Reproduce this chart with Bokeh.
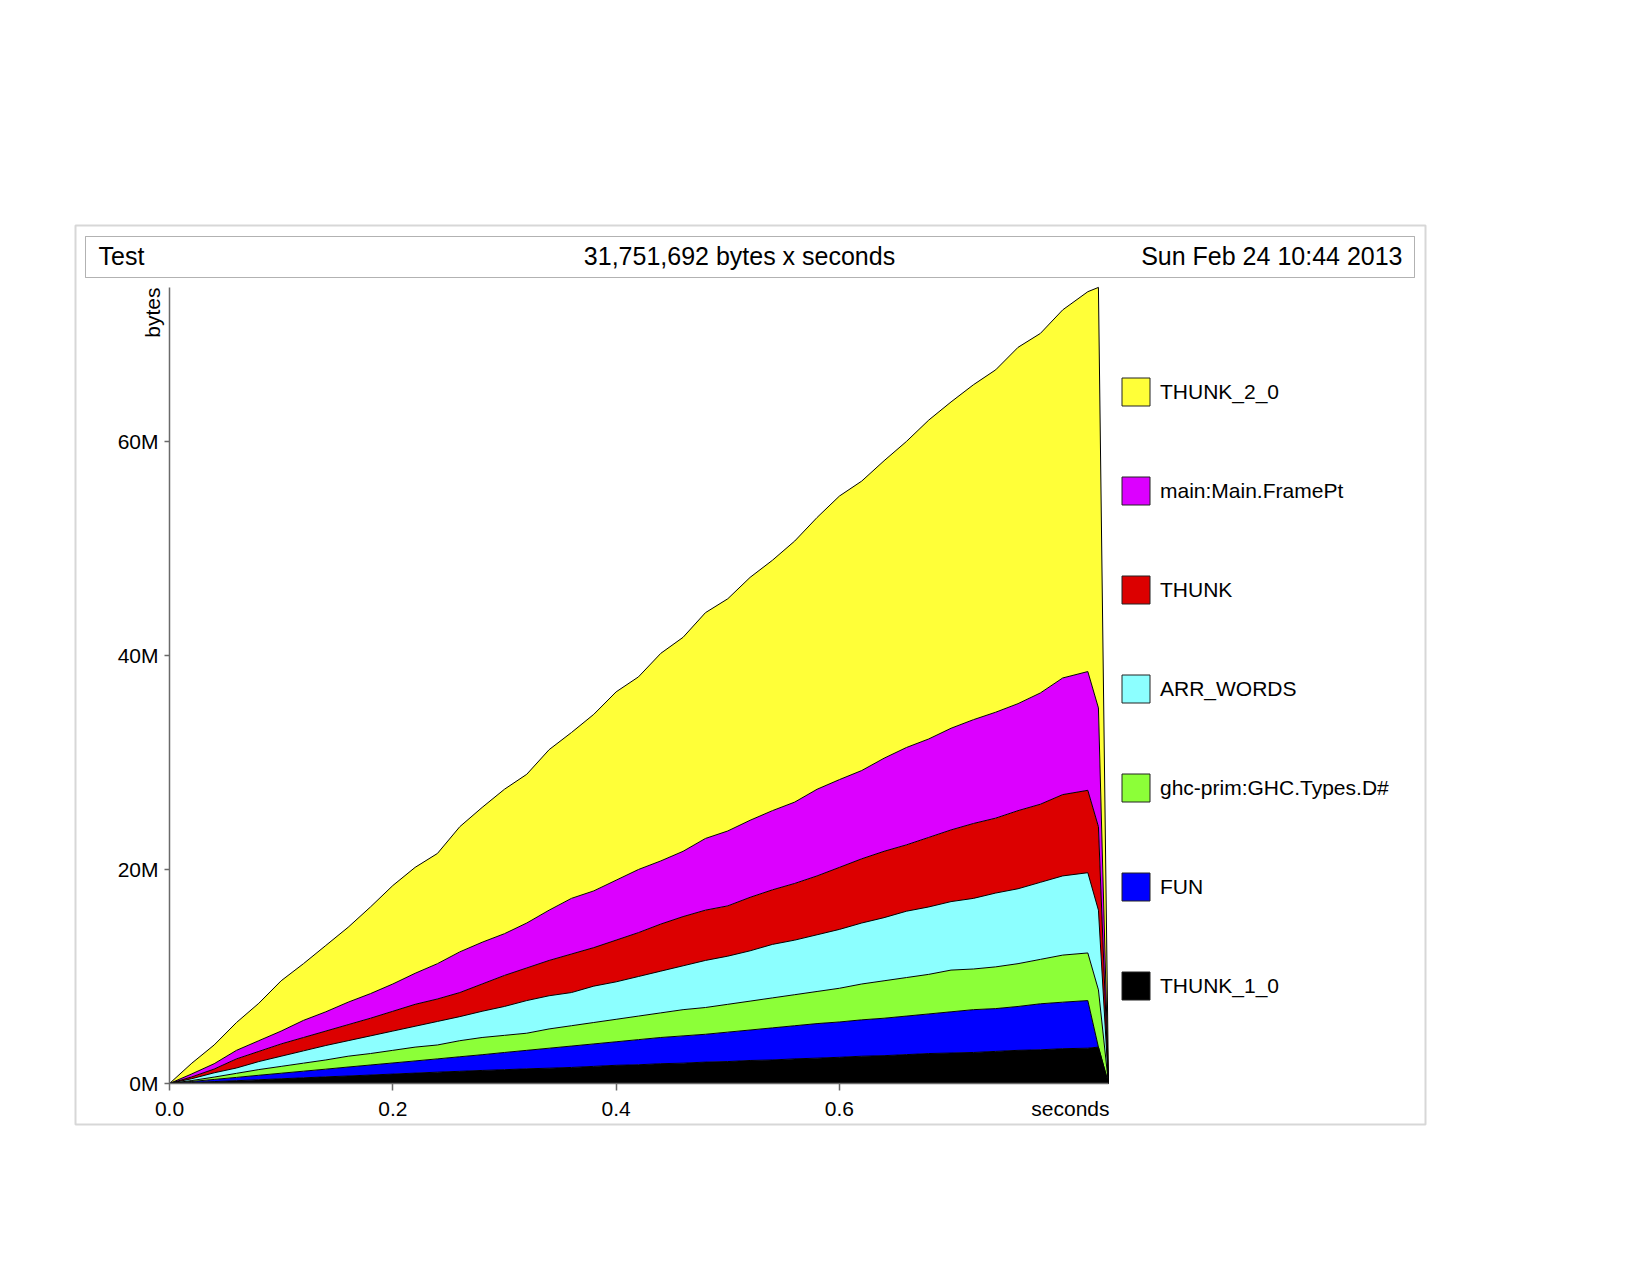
from bokeh.plotting import figure
from bokeh.models import (Range1d, LinearAxis, FixedTicker, BoxAnnotation, Label,
                          Legend, LegendItem, ColumnDataSource, Grid)
from bokeh.transform import stack
from bokeh.embed import file_html
from bokeh.resources import INLINE

# ---------------- data (heap in millions of bytes) ----------------
times = [0.00, 0.02, 0.04, 0.06, 0.08, 0.10, 0.12, 0.14, 0.16, 0.18,
         0.20, 0.22, 0.24, 0.26, 0.28, 0.30, 0.32, 0.34, 0.36, 0.38,
         0.40, 0.42, 0.44, 0.46, 0.48, 0.50, 0.52, 0.54, 0.56, 0.58,
         0.60, 0.62, 0.64, 0.66, 0.68, 0.70, 0.72, 0.74, 0.76, 0.78,
         0.80, 0.8225, 0.832, 0.841]

thunk_1_0 = [0, .09, .18, .26, .35, .44, .53, .62, .70, .79,
             .88, .97, 1.06, 1.14, 1.22, 1.29, 1.37, 1.43, 1.50, 1.60,
             1.70, 1.75, 1.85, 1.90, 2.00, 2.05, 2.15, 2.20, 2.30, 2.37,
             2.45, 2.55, 2.60, 2.70, 2.80, 2.85, 2.90, 3.00, 3.10, 3.15,
             3.25, 3.30, 3.40, 0]
fun = [0, .10, .20, .31, .42, .52, .62, .72, .84, .94,
       1.04, 1.14, 1.24, 1.36, 1.47, 1.61, 1.73, 1.87, 2.00, 2.10,
       2.20, 2.35, 2.45, 2.55, 2.60, 2.75, 2.85, 3.00, 3.10, 3.23,
       3.30, 3.40, 3.50, 3.60, 3.70, 3.85, 4.00, 4.00, 4.10, 4.30,
       4.35, 4.45, 0, 0]
ghc_types_d = [0, .09, .22, .38, .53, .64, .75, .86, 1.01, 1.07,
               1.18, 1.29, 1.30, 1.50, 1.61, 1.60, 1.60, 1.80, 1.90, 2.00,
               2.10, 2.20, 2.30, 2.45, 2.50, 2.60, 2.70, 2.80, 2.90, 3.00,
               3.15, 3.35, 3.50, 3.60, 3.70, 3.90, 3.80, 3.90, 4.00, 4.15,
               4.40, 4.45, 5.35, 0]
arr_words = [0, .17, .40, .50, .75, .95, 1.15, 1.35, 1.45, 1.65,
             1.80, 1.95, 2.20, 2.25, 2.45, 2.70, 3.05, 3.10, 3.10, 3.40,
             3.50, 3.70, 3.90, 4.10, 4.40, 4.50, 4.70, 5.00, 5.10, 5.30,
             5.50, 5.70, 5.90, 6.20, 6.30, 6.40, 6.60, 6.90, 7.00, 7.20,
             7.40, 7.50, 7.45, 0]
thunk = [0, .17, .35, .85, .95, 1.15, 1.25, 1.35, 1.50, 1.65,
         1.85, 2.05, 2.10, 2.25, 2.55, 2.90, 3.05, 3.30, 3.60, 3.60,
         3.90, 4.10, 4.40, 4.60, 4.70, 4.70, 5.00, 5.10, 5.30, 5.50,
         5.80, 6.00, 6.20, 6.20, 6.50, 6.70, 7.00, 7.00, 7.30, 7.30,
         7.60, 7.70, 7.80, 0]
frame_pt = [0, .28, .50, .80, 1.00, 1.20, 1.60, 1.80, 2.10, 2.30,
            2.55, 2.90, 3.30, 3.80, 3.90, 3.90, 4.20, 4.70, 5.20, 5.30,
            5.60, 5.90, 5.90, 6.10, 6.70, 7.00, 7.20, 7.40, 7.60, 8.10,
            8.20, 8.25, 8.70, 9.10, 9.20, 9.50, 9.70, 9.90, 10.00, 10.40,
            10.90, 11.10, 11.10, 0]
thunk_2_0 = [0, 1.00, 1.75, 2.60, 3.50, 4.70, 5.30, 6.20, 7.00, 8.10,
             9.20, 9.90, 10.30, 11.70, 12.60, 13.50, 13.90, 15.00, 15.50, 16.50,
             17.60, 18.00, 19.40, 20.00, 21.10, 21.70, 22.70, 23.40, 24.40, 25.40,
             26.50, 27.05, 27.80, 28.60, 29.80, 30.50, 31.30, 32.00, 33.30, 33.60,
             34.40, 35.50, 39.30, 0]

# bottom-to-top stacking order
series_labels = ["THUNK_1_0", "FUN", "ghc-prim:GHC.Types.D#", "ARR_WORDS",
                 "THUNK", "main:Main.FramePt", "THUNK_2_0"]
series_values = [thunk_1_0, fun, ghc_types_d, arr_words, thunk, frame_pt, thunk_2_0]
series_colors = ["#000000", "#0000FF", "#8CFF38", "#8CFFFF",
                 "#DC0000", "#DC00FF", "#FFFF38"]

y_ticks = [0, 20, 40, 60]
y_tick_labels = ["0M", "20M", "40M", "60M"]
x_ticks = [0.0, 0.2, 0.4, 0.6]
x_tick_labels = ["0.0", "0.2", "0.4", "0.6"]

title_left = "Test"
title_mid = "31,751,692 bytes x seconds"
title_right = "Sun Feb 24 10:44 2013"
x_label = "seconds"
y_label = "bytes"

# ---------------- layout (pixels) ----------------
W, H = 1650, 1275
X0, PX_PER_S = 169.0, 1116.5     # pixel of t = 0, pixels per second
Y0, PX_PER_M = 1083.0, 10.7      # pixel of 0 bytes, pixels per MB
FONT = "Liberation Sans"


def dx(px):
    return (px - X0) / PX_PER_S


def dy(py):
    return (Y0 - py) / PX_PER_M


p = figure(width=W, height=H,
           x_range=Range1d(dx(0), dx(W)), y_range=Range1d(dy(H), dy(0)),
           output_backend="svg", toolbar_location=None,
           x_axis_location=None, y_axis_location=None,
           min_border=0, outline_line_color=None,
           background_fill_color="white", border_fill_color="white")

keys = ["s%d" % i for i in range(len(series_values))]
data = {"t": times}
for k, v in zip(keys, series_values):
    data[k] = v
src = ColumnDataSource(data)

p.varea_stack(stackers=keys, x="t", color=series_colors, source=src)
for i in range(len(keys)):
    p.line(x="t", y=stack(*keys[:i + 1]), line_color="black", line_width=1,
           source=src)

totals = [sum(vals) for vals in zip(*series_values)]

# axes
yaxis = LinearAxis(fixed_location=0, bounds=(0, max(totals)))
yaxis.ticker = FixedTicker(ticks=y_ticks)
yaxis.major_label_overrides = {t: l for t, l in zip(y_ticks, y_tick_labels)}
xaxis = LinearAxis(fixed_location=0, bounds=(0, times[-1]))
xaxis.ticker = FixedTicker(ticks=x_ticks)
xaxis.major_label_overrides = {t: l for t, l in zip(x_ticks, x_tick_labels)}
for ax, tick_out, standoff in ((yaxis, 5, 6), (xaxis, 7, 11)):
    ax.axis_line_color = "#6a6a6a"
    ax.axis_line_width = 1.5
    ax.major_tick_line_color = "#6a6a6a"
    ax.major_tick_line_width = 1.5
    ax.major_tick_in = 0
    ax.major_tick_out = tick_out
    ax.minor_tick_in = 0
    ax.minor_tick_out = 0
    ax.major_label_standoff = standoff
    ax.major_label_text_font = FONT
    ax.major_label_text_font_size = "21px"
    ax.major_label_text_color = "black"
p.add_layout(yaxis, "left")
p.add_layout(xaxis, "below")

for g in p.select(type=Grid):
    g.visible = False

# axis names
p.add_layout(Label(x=dx(1109), y=dy(1108), text=x_label, text_align="right",
                   text_baseline="middle", text_font=FONT, text_font_size="21px",
                   text_color="black"))
p.add_layout(Label(x=dx(152), y=dy(287), text=y_label, angle=90, angle_units="deg",
                   text_align="right", text_baseline="alphabetic", text_font=FONT,
                   text_font_size="21px", text_color="black"))

# outer frame and title box
p.add_layout(BoxAnnotation(left=dx(75), right=dx(1425), top=dy(225), bottom=dy(1124),
                           fill_color=None, line_color="#7a7a7a", line_width=2))
p.add_layout(BoxAnnotation(left=dx(85), right=dx(1414), top=dy(236), bottom=dy(277),
                           fill_color=None, line_color="black", line_width=1))
for txt, xp, align in ((title_left, 98, "left"), (title_mid, 739, "center"),
                       (title_right, 1402, "right")):
    p.add_layout(Label(x=dx(xp), y=dy(255), text=txt, text_align=align,
                       text_baseline="middle", text_font=FONT,
                       text_font_size="25px", text_color="black"))

# legend (top-to-bottom = reverse stacking order); the swatch renderers are
# zero-size quads sitting at the chart origin, only used for the legend keys
items = []
for lab, col in zip(series_labels, series_colors):
    r = p.quad(left=[times[0]], right=[times[0]], top=[0], bottom=[0],
               fill_color=col, line_color="#222222", line_width=1)
    items.append(LegendItem(label=lab, renderers=[r]))
items.reverse()
legend = Legend(items=items, location=(1118, 272), orientation="vertical",
                glyph_width=35, glyph_height=35, spacing=64, padding=0, margin=0,
                label_standoff=7, border_line_color=None, background_fill_alpha=0,
                label_text_font=FONT, label_text_font_size="21px",
                label_text_color="black")
p.add_layout(legend)

open("out.html", "w").write(file_html(p, INLINE))
